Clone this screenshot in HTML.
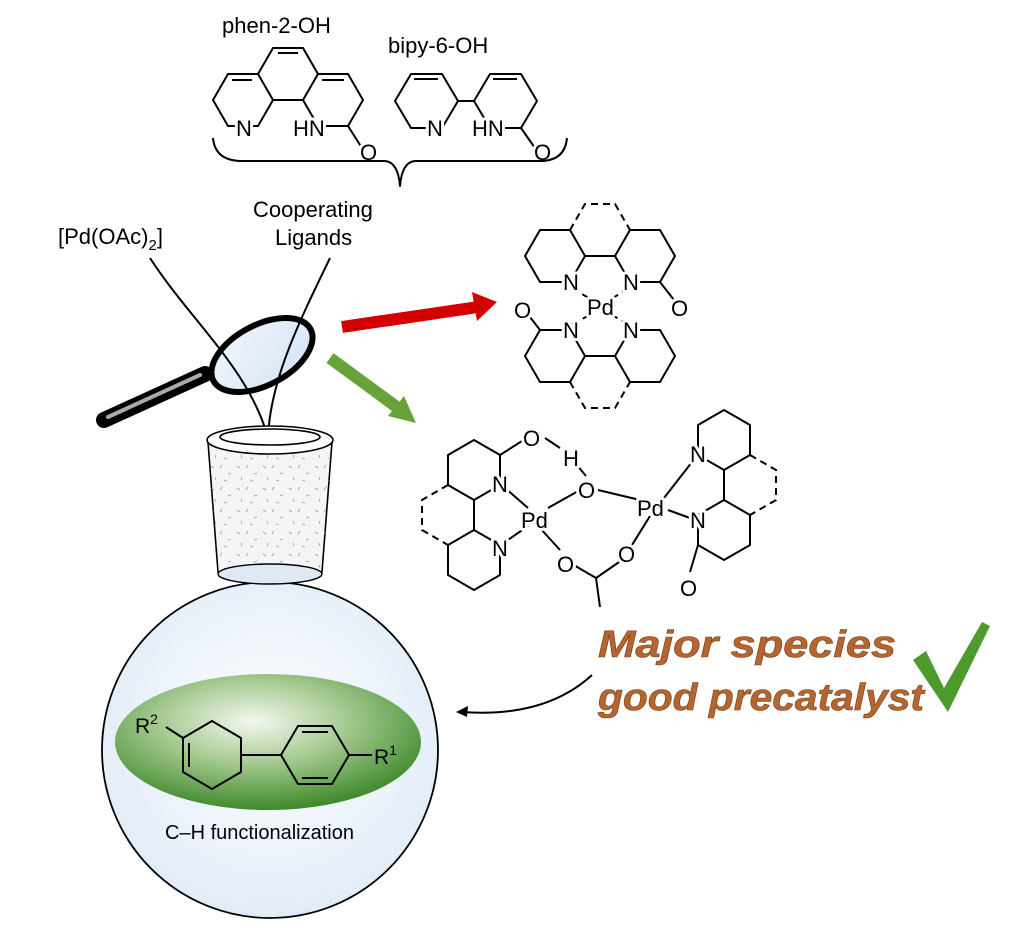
<!DOCTYPE html>
<html><head><meta charset="utf-8"><style>
html,body{margin:0;padding:0;background:#fff;}
svg{display:block;}
text{font-family:"Liberation Sans",sans-serif;}
.lbl{font-size:22px;fill:#000;stroke:#fff;stroke-width:6px;paint-order:stroke;stroke-linejoin:round;}
.b{fill:none;stroke:#000;stroke-width:2;stroke-linejoin:round;}
.d{fill:none;stroke:#000;stroke-width:2;stroke-dasharray:7 5;}
</style></head><body>
<svg width="1024" height="931" viewBox="0 0 1024 931" xmlns="http://www.w3.org/2000/svg">
<defs>
<radialGradient id="gEll" cx="0.45" cy="0.35" r="0.65">
<stop offset="0" stop-color="#f4f8f0"/><stop offset="0.45" stop-color="#a9cc95"/><stop offset="1" stop-color="#3f8a2b"/>
</radialGradient>
<radialGradient id="gFl" cx="0.5" cy="0.45" r="0.55">
<stop offset="0" stop-color="#ffffff"/><stop offset="1" stop-color="#e2ecf8"/>
</radialGradient>
<linearGradient id="gLens" x1="0" y1="0" x2="1" y2="1">
<stop offset="0" stop-color="#f2f7fd"/><stop offset="1" stop-color="#d4e3f5"/>
</linearGradient>
<pattern id="spk" width="26" height="22" patternUnits="userSpaceOnUse">
<path d="M3,4 l3,2 M14,3 l-2,3 M20,12 l3,-1 M7,15 l1,3 M16,18 l3,1" stroke="#999" stroke-width="0.8"/>
</pattern>
</defs>

<!-- top labels -->
<text x="222" y="33" font-size="22">phen-2-OH</text>
<text x="388" y="53" font-size="22">bipy-6-OH</text>

<!-- phen-2-OH -->
<polyline class="b" points="258,74 273,48 303,48 318,74"/>
<polygon class="b" points="213,100 228,74 258,74 273,100 258,126 228,126"/>
<polygon class="b" points="303,100 318,74 348,74 363,100 348,126 318,126"/>
<line class="b" x1="273" y1="100" x2="303" y2="100"/>
<line class="b" x1="278" y1="53" x2="298" y2="53"/>
<line class="b" x1="232" y1="80" x2="252" y2="80"/>
<line class="b" x1="322" y1="80" x2="344" y2="80"/>
<line class="b" x1="348" y1="126" x2="362" y2="148"/>
<text class="lbl" x="236" y="136">N</text>
<text class="lbl" x="293" y="136">HN</text>
<text class="lbl" x="360" y="160">O</text>

<!-- bipy-6-OH -->
<polygon class="b" points="395,101 411,74 442,74 458,101 442,128 411,128"/>
<polygon class="b" points="474,101 490,74 521,74 537,101 521,128 490,128"/>
<line class="b" x1="458" y1="101" x2="474" y2="101"/>
<line class="b" x1="414" y1="79" x2="438" y2="79"/>
<line class="b" x1="493" y1="79" x2="517" y2="79"/>
<line class="b" x1="521" y1="128" x2="535" y2="148"/>
<text class="lbl" x="427" y="136">N</text>
<text class="lbl" x="472" y="136">HN</text>
<text class="lbl" x="534" y="160">O</text>

<!-- brace -->
<path class="b" stroke-width="1.6" d="M213,138 Q215,160 240,161 L385,161 Q398,162 400,186 Q402,162 415,161 L542,161 Q565,160 567,138"/>

<text x="253" y="217" font-size="22">Cooperating</text>
<text x="275" y="245" font-size="22">Ligands</text>
<text x="58" y="244" font-size="22">[Pd(OAc)<tspan font-size="15" dy="6">2</tspan><tspan dy="-6">]</tspan></text>

<!-- magnifier -->
<line x1="104" y1="420" x2="205" y2="374" stroke="#000" stroke-width="16" stroke-linecap="round"/>
<line x1="108" y1="417" x2="200" y2="375" stroke="#aaa" stroke-width="4" stroke-linecap="round"/>
<ellipse cx="262" cy="355" rx="55" ry="30" transform="rotate(-28 262 355)" fill="url(#gLens)" stroke="#000" stroke-width="6"/>

<!-- converging lines -->
<path class="b" stroke-width="1.6" d="M150,258 C190,320 250,370 268,438"/>
<path class="b" stroke-width="1.6" d="M330,258 C300,320 270,380 268,438"/>
<polygon points="264,428 272,428 268,440" fill="#000"/>

<!-- arrows -->
<line x1="342" y1="327" x2="478" y2="307" stroke="#d40000" stroke-width="12"/>
<polygon points="497,302 472,292 477,321" fill="#d40000"/>
<line x1="330" y1="358" x2="398" y2="408" stroke="#6aa23a" stroke-width="12"/>
<polygon points="416,423 388,416 404,396" fill="#6aa23a"/>

<!-- flask -->
<circle cx="270" cy="750" r="168" fill="url(#gFl)" stroke="#000" stroke-width="1.8"/>
<ellipse cx="268" cy="742" rx="153" ry="68" fill="url(#gEll)"/>
<path d="M208,442 L218,572 Q270,584 322,572 L332,442 Z" fill="#f5f5f5" stroke="#000" stroke-width="1.6"/>
<path d="M208,442 L218,572 Q270,584 322,572 L332,442 Z" fill="url(#spk)"/>
<ellipse cx="270" cy="574" rx="52" ry="10" fill="#dfe9f5" stroke="#000" stroke-width="1.4"/>
<ellipse cx="270" cy="440" rx="63" ry="14" fill="#fff" stroke="#000" stroke-width="1.6"/>
<ellipse cx="270" cy="437" rx="50" ry="8" fill="#fff" stroke="#000" stroke-width="1.6"/>

<!-- biphenyl -->
<polygon class="b" points="212,721 241,738 241,772 212,789 183,772 183,738"/>
<polygon class="b" points="281,755 298,726 332,726 349,755 332,784 298,784"/>
<line class="b" x1="241" y1="755" x2="281" y2="755"/>
<line class="b" x1="349" y1="755" x2="372" y2="755"/>
<line class="b" x1="183" y1="738" x2="166" y2="727"/>
<line class="b" x1="189" y1="743" x2="189" y2="767"/>
<line class="b" x1="302" y1="732" x2="328" y2="732"/>
<line class="b" x1="302" y1="778" x2="328" y2="778"/>
<text x="135" y="733" font-size="21">R<tspan font-size="14" dy="-9">2</tspan></text>
<text x="374" y="764" font-size="21">R<tspan font-size="14" dy="-9">1</tspan></text>
<text x="165" y="839" font-size="20">C–H functionalization</text>

<!-- top-right Pd complex -->
<polygon class="b" points="525,256 540,230 570,230 585,256 570,282 540,282"/>
<polygon class="b" points="615,256 630,230 660,230 675,256 660,282 630,282"/>
<line class="b" x1="585" y1="256" x2="615" y2="256"/>
<polyline class="d" points="570,230 585,204 615,204 630,230"/>
<polygon class="b" points="525,356 540,330 570,330 585,356 570,382 540,382"/>
<polygon class="b" points="615,356 630,330 660,330 675,356 660,382 630,382"/>
<line class="b" x1="585" y1="356" x2="615" y2="356"/>
<polyline class="d" points="570,382 585,408 615,408 630,382"/>
<line class="b" x1="660" y1="282" x2="674" y2="300"/>
<line class="b" x1="540" y1="330" x2="526" y2="312"/>
<line class="d" x1="572" y1="288" x2="592" y2="300" stroke-dasharray="4 4"/>
<line class="d" x1="628" y1="288" x2="610" y2="300" stroke-dasharray="4 4"/>
<line class="d" x1="572" y1="324" x2="592" y2="314" stroke-dasharray="4 4"/>
<line class="d" x1="628" y1="324" x2="610" y2="314" stroke-dasharray="4 4"/>
<text class="lbl" x="563" y="290">N</text>
<text class="lbl" x="623" y="290">N</text>
<text class="lbl" x="587" y="315">Pd</text>
<text class="lbl" x="671" y="316">O</text>
<text class="lbl" x="514" y="318">O</text>
<text class="lbl" x="563" y="338">N</text>
<text class="lbl" x="623" y="338">N</text>

<!-- dimer left ligand -->
<polygon class="b" points="474,440 500,455 500,485 474,500 448,485 448,455"/>
<polygon class="b" points="474,530 500,545 500,575 474,590 448,575 448,545"/>
<line class="b" x1="474" y1="500" x2="474" y2="530"/>
<polyline class="d" points="448,485 422,500 422,530 448,545"/>
<line class="b" x1="500" y1="455" x2="522" y2="441"/>
<line class="b" x1="505" y1="488" x2="528" y2="508"/>
<line class="b" x1="505" y1="542" x2="528" y2="526"/>
<!-- dimer core -->
<line class="b" x1="548" y1="508" x2="580" y2="490"/>
<line class="b" x1="598" y1="490" x2="640" y2="500"/>
<line class="b" x1="540" y1="528" x2="560" y2="550"/>
<line class="b" x1="650" y1="516" x2="632" y2="545"/>
<line class="b" x1="572" y1="564" x2="596" y2="578"/>
<line class="b" x1="596" y1="578" x2="622" y2="560"/>
<line class="b" x1="596" y1="578" x2="600" y2="607"/>
<line class="b" x1="586" y1="476" x2="576" y2="464"/>
<line class="b" x1="545" y1="438" x2="560" y2="448"/>
<!-- right ligand -->
<polygon class="b" points="724,410 750,425 750,455 724,470 698,455 698,425"/>
<polygon class="b" points="724,500 750,515 750,545 724,560 698,545 698,515"/>
<line class="b" x1="724" y1="470" x2="724" y2="500"/>
<polyline class="d" points="750,455 776,470 776,500 750,515"/>
<line class="b" x1="698" y1="545" x2="690" y2="572"/>
<line class="b" x1="692" y1="462" x2="664" y2="498"/>
<line class="b" x1="690" y1="518" x2="668" y2="510"/>
<text class="lbl" x="492" y="492">N</text>
<text class="lbl" x="492" y="556">N</text>
<text class="lbl" x="521" y="528">Pd</text>
<text class="lbl" x="523" y="446">O</text>
<text class="lbl" x="563" y="466">H</text>
<text class="lbl" x="578" y="498">O</text>
<text class="lbl" x="637" y="516">Pd</text>
<text class="lbl" x="557" y="572">O</text>
<text class="lbl" x="618" y="562">O</text>
<text class="lbl" x="690" y="462">N</text>
<text class="lbl" x="690" y="528">N</text>
<text class="lbl" x="680" y="596">O</text>

<!-- curved arrow -->
<path class="b" stroke-width="1.5" d="M592,675 Q545,718 462,712"/>
<polygon points="456,712 468,706 467,717" fill="#000"/>

<!-- orange text -->
<g font-family="Liberation Sans" font-weight="bold" font-style="italic" font-size="38" fill="#b5652f" stroke="#7a3f18" stroke-width="0.6">
<text x="598" y="657" textLength="298" lengthAdjust="spacingAndGlyphs">Major species</text>
<text x="598" y="710" textLength="326" lengthAdjust="spacingAndGlyphs">good precatalyst</text>
</g>
<!-- check -->
<polygon points="913,660 926,651 944,688 982,622 990,626 948,712" fill="#4f9a2f"/>
</svg>
</body></html>
